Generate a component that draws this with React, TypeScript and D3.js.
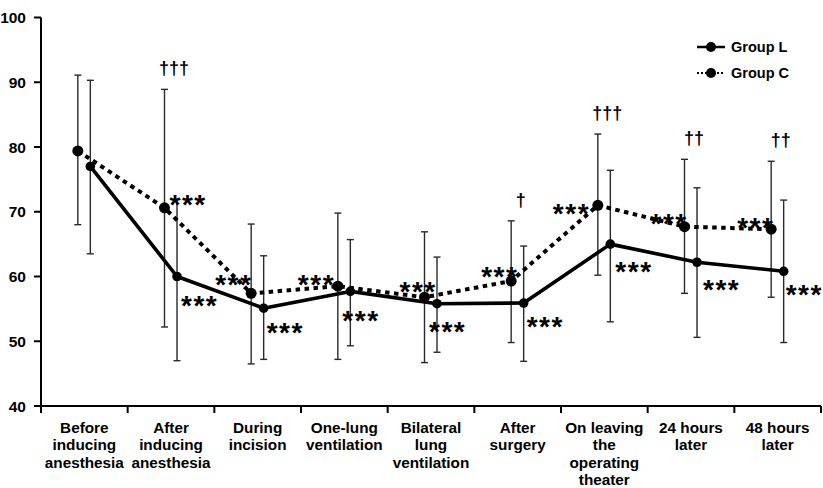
import React from "react";
import * as d3 from "d3";

// time points along the x axis (one array of lines per category)
const categories: string[][] = [
  ["Before", "inducing", "anesthesia"],
  ["After", "inducing", "anesthesia"],
  ["During", "incision"],
  ["One-lung", "ventilation"],
  ["Bilateral", "lung", "ventilation"],
  ["After", "surgery"],
  ["On leaving", "the", "operating", "theater"],
  ["24 hours", "later"],
  ["48 hours", "later"],
];

const yTicks = [40, 50, 60, 70, 80, 90, 100];

// Group L: mean, upper and lower whisker
const groupL = [77.0, 60.0, 55.1, 57.7, 55.8, 55.9, 65.0, 62.2, 60.8];
const groupLHigh = [90.3, 71.9, 63.2, 65.7, 63.0, 64.7, 76.4, 73.7, 71.8];
const groupLLow = [63.5, 47.0, 47.2, 49.3, 48.3, 46.9, 53.0, 50.6, 49.8];

// Group C: mean, upper and lower whisker
const groupC = [79.4, 70.6, 57.4, 58.5, 56.8, 59.3, 71.0, 67.7, 67.3];
const groupCHigh = [91.1, 88.9, 68.1, 69.8, 66.9, 68.6, 82.0, 78.1, 77.8];
const groupCLow = [68.0, 52.2, 46.5, 47.2, 46.7, 49.8, 60.2, 57.4, 56.8];

// significance marks
const starsL = ["", "***", "***", "***", "***", "***", "***", "***", "***"];
const starsC = ["", "***", "***", "***", "***", "***", "***", "***", "***"];
const daggers = ["", "†††", "", "", "", "†", "†††", "††", "††"];

// where each *** sits relative to its point (left edge, vertical middle)
const starOffsetL: [number, number][] = [
  [0, 0], [4, 21], [3, 16], [-8, 21], [-8, 20], [3, 16], [5, 20], [6, 19], [2, 15],
];
const starOffsetC: [number, number][] = [
  [0, 0], [5, -11], [-36, -17], [-40, -10], [-25, -14], [-30, -12], [-45, 0], [-34, -11], [-34, -10],
];

const W = 823;
const H = 488;
const FONT = "'Liberation Sans', Arial, sans-serif";

export default function App() {
  const x = d3
    .scaleBand<number>()
    .domain(d3.range(categories.length))
    .range([41, 821]);
  const y = d3.scaleLinear().domain([40, 100]).range([406, 17.5]);
  const bw = x.bandwidth();
  const cx = (i: number) => (x(i) as number) + bw / 2;
  const xC = (i: number) => cx(i) - 6.5;
  const xL = (i: number) => cx(i) + 6;

  const lineC = d3
    .line<number>()
    .x((_, i) => xC(i))
    .y((d) => y(d));
  const lineL = d3
    .line<number>()
    .x((_, i) => xL(i))
    .y((d) => y(d));

  const starSize = 28;
  const starLift = 0.62; // middle of an asterisk above its baseline, in em
  const errBar = (xx: number, hi: number, lo: number, key: string) => (
    <g key={key} stroke="#2a2a2a" strokeWidth={1.4}>
      <line x1={xx} x2={xx} y1={y(hi)} y2={y(lo)} />
      <line x1={xx - 3.5} x2={xx + 3.5} y1={y(hi)} y2={y(hi)} />
      <line x1={xx - 3.5} x2={xx + 3.5} y1={y(lo)} y2={y(lo)} />
    </g>
  );

  const starText = (s: string, px: number, py: number, off: [number, number], key: string) => (
    <text
      key={key}
      x={px + off[0]}
      y={py + off[1] + starSize * starLift}
      fontFamily={FONT}
      fontWeight="bold"
      fontSize={starSize}
    >
      {s.split("").map((c, k) => (
        <tspan key={k} dx={k === 0 ? 0 : 1.5}>
          {c}
        </tspan>
      ))}
    </text>
  );

  return (
    <svg width={W} height={H} style={{ position: "absolute", left: 0, top: 0, background: "#fff" }}>
      <rect width={W} height={H} fill="#fff" />

      {/* y axis */}
      <line x1={41} x2={41} y1={y(100)} y2={413} stroke="#000" strokeWidth={2} />
      {yTicks.map((t) => (
        <g key={t}>
          <line x1={34} x2={41} y1={y(t)} y2={y(t)} stroke="#000" strokeWidth={2} />
          <text
            x={26}
            y={y(t) + 5.5}
            textAnchor="end"
            fontFamily={FONT}
            fontWeight="bold"
            fontSize={15.5}
          >
            {t}
          </text>
        </g>
      ))}

      {/* x axis */}
      <line x1={34} x2={821} y1={y(40)} y2={y(40)} stroke="#000" strokeWidth={2} />
      {d3.range(categories.length + 1).map((i) => {
        const xx = i < categories.length ? (x(i) as number) : 821;
        return <line key={i} x1={xx} x2={xx} y1={y(40)} y2={413} stroke="#000" strokeWidth={2} />;
      })}
      {categories.map((lines, i) => (
        <text
          key={i}
          x={cx(i)}
          y={433}
          textAnchor="middle"
          fontFamily={FONT}
          fontWeight="bold"
          fontSize={15.3}
        >
          {lines.map((ln, j) => (
            <tspan key={j} x={cx(i)} dy={j === 0 ? 0 : 17.3}>
              {ln}
            </tspan>
          ))}
        </text>
      ))}

      {/* whiskers */}
      {groupC.map((_, i) => errBar(xC(i), groupCHigh[i], groupCLow[i], "c" + i))}
      {groupL.map((_, i) => errBar(xL(i), groupLHigh[i], groupLLow[i], "l" + i))}

      {/* lines */}
      <path d={lineC(groupC) ?? ""} fill="none" stroke="#000" strokeWidth={4} strokeDasharray="4.5,4.5" />
      <path d={lineL(groupL) ?? ""} fill="none" stroke="#000" strokeWidth={3.6} strokeLinejoin="round" />

      {/* points */}
      {groupC.map((v, i) => (
        <circle key={"pc" + i} cx={xC(i)} cy={y(v)} r={5.5} fill="#000" />
      ))}
      {groupL.map((v, i) => (
        <circle key={"pl" + i} cx={xL(i)} cy={y(v)} r={4.8} fill="#000" />
      ))}

      {/* significance vs baseline */}
      {starsC.map((s, i) => (s ? starText(s, xC(i), y(groupC[i]), starOffsetC[i], "sc" + i) : null))}
      {starsL.map((s, i) => (s ? starText(s, xL(i), y(groupL[i]), starOffsetL[i], "sl" + i) : null))}

      {/* between-group significance */}
      {daggers.map((s, i) =>
        s ? (
          <text
            key={"d" + i}
            x={cx(i) + 3}
            y={y(groupCHigh[i]) - 15}
            textAnchor="middle"
            fontFamily={FONT}
            fontWeight="bold"
            fontSize={18}
          >
            {s}
          </text>
        ) : null
      )}

      {/* legend */}
      <g fontFamily={FONT} fontWeight="bold" fontSize={14.5}>
        <line x1={697} x2={725} y1={47} y2={47} stroke="#000" strokeWidth={2.5} />
        <circle cx={711} cy={47} r={5} fill="#000" />
        <text x={731} y={52}>Group L</text>
        <line x1={697} x2={725} y1={73} y2={73} stroke="#000" strokeWidth={2} strokeDasharray="2,2" />
        <circle cx={711} cy={73} r={5} fill="#000" />
        <text x={731} y={78}>Group C</text>
      </g>
    </svg>
  );
}
